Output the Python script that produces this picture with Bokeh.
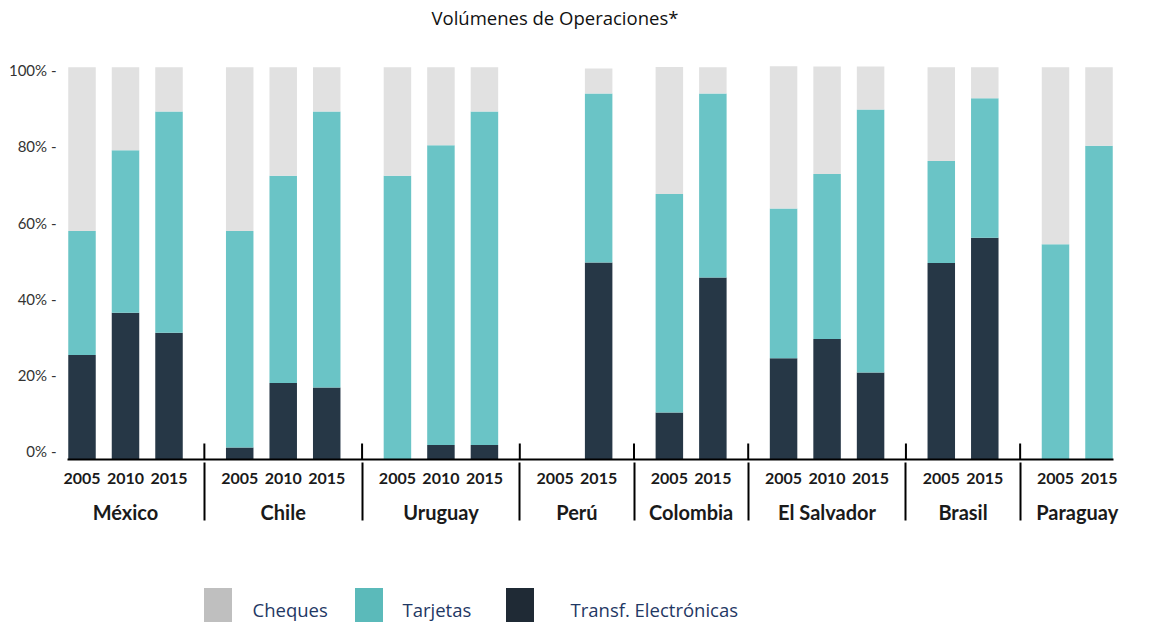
from bokeh.plotting import figure
from bokeh.layouts import column
from bokeh.models import (FactorRange, Range1d, FixedTicker, Legend, LegendItem,
                          Title, ColumnDataSource)
from bokeh.embed import file_html
from bokeh.resources import INLINE

# ---------------- data ----------------
countries = ["México", "Chile", "Uruguay", "Perú", "Colombia", "El Salvador", "Brasil", "Paraguay"]
years = [["2005", "2010", "2015"], ["2005", "2010", "2015"], ["2005", "2010", "2015"],
         ["2005", "2015"], ["2005", "2015"], ["2005", "2010", "2015"],
         ["2005", "2015"], ["2005", "2015"]]

# percentages, one value per (country, year) in the order above
transf = [25.2, 36.3, 31.1,
          0.9, 17.9, 16.7,
          0.0, 1.6, 1.6,
          0.0, 49.5,
          10.1, 45.6,
          24.4, 29.4, 20.6,
          49.4, 56.0,
          0.0, 0.0]
tarjetas = [32.6, 42.7, 58.1,
            56.9, 54.4, 72.5,
            72.3, 78.7, 87.6,
            0.0, 44.4,
            57.4, 48.3,
            39.3, 43.4, 69.1,
            26.8, 36.7,
            54.3, 80.2]
cheques = [43.0, 21.8, 11.6,
           43.0, 28.5, 11.6,
           28.5, 20.5, 11.6,
           0.0, 6.6,
           33.4, 6.9,
           37.4, 28.2, 11.3,
           24.6, 8.1,
           46.5, 20.6]

series_names = ["Cheques", "Tarjetas", "Transf. Electrónicas"]
y_ticks = [0, 20, 40, 60, 80, 100]
y_tick_labels = ["0% -", "20% -", "40% -", "60% -", "80% -", "100% -"]
title_text = "Volúmenes de Operaciones*"

# ---------------- styles / layout ----------------
C_DARK, C_TEAL, C_GRAY = "#263746", "#6AC4C6", "#E1E1E1"
L_GRAY, L_TEAL, L_DARK = "#BFBFBF", "#5BBABA", "#1F2A35"

FACTOR_PAD, GROUP_PAD, BAR_W = 0.5, 1.438, 0.948
W = 1155
H_MAIN, H_LEG = 545, 77
FRAME_TOP, FRAME_BOTTOM = 34, 459
MB_LEFT, MB_RIGHT = 67, 42
ZERO_PX, PX_PER_PCT = 450.5, 3.825
Y0 = -(FRAME_BOTTOM - ZERO_PX) / PX_PER_PCT
Y1 = (ZERO_PX - FRAME_TOP) / PX_PER_PCT

factors = [(c, y) for c, ys in zip(countries, years) for y in ys]
base = Y0

# stacked layers; a layer whose cumulative total is 0 collapses to the baseline
layers = [transf, tarjetas, cheques]
bottoms, tops = [], []
prev = [base] * len(factors)
cum = [0.0] * len(factors)
for vals in layers:
    cum = [c + v for c, v in zip(cum, vals)]
    top = [c if c > 0 else base for c in cum]
    bottoms.append(prev)
    tops.append(top)
    prev = top

src = ColumnDataSource(dict(x=factors,
                            b0=bottoms[0], t0=tops[0],
                            b1=bottoms[1], t1=tops[1],
                            b2=bottoms[2], t2=tops[2]))

p = figure(x_range=FactorRange(factors=factors, factor_padding=FACTOR_PAD,
                               group_padding=GROUP_PAD, range_padding=0),
           y_range=Range1d(Y0, Y1),
           width=W, height=H_MAIN, output_backend="svg", toolbar_location=None,
           min_border_left=MB_LEFT, min_border_right=MB_RIGHT,
           min_border_top=FRAME_TOP, min_border_bottom=H_MAIN - FRAME_BOTTOM)

p.vbar(x="x", top="t0", bottom="b0", width=BAR_W, source=src, fill_color=C_DARK, line_color=None)
p.vbar(x="x", top="t1", bottom="b1", width=BAR_W, source=src, fill_color=C_TEAL, line_color=None)
p.vbar(x="x", top="t2", bottom="b2", width=BAR_W, source=src, fill_color=C_GRAY, line_color=None)

# upper part of the group separators (rises above the axis line)
sep_x = [(c, ys[-1], (1 + GROUP_PAD) / 2) for c, ys in zip(countries[:-1], years[:-1])]
p.segment(x0=sep_x, x1=sep_x, y0=[Y0] * len(sep_x),
          y1=[Y0 + 16 / PX_PER_PCT] * len(sep_x), line_color="black", line_width=2)

# ---------------- axes ----------------
p.xgrid.visible = False
p.ygrid.visible = False
p.outline_line_color = None

xa = p.xaxis[0]
xa.axis_line_color = "black"
xa.axis_line_width = 2
xa.major_tick_line_color = None
xa.minor_tick_line_color = None
xa.major_tick_out = 0
xa.major_tick_in = 0
xa.major_label_standoff = 13
xa.major_label_text_font = "Lato"
xa.major_label_text_font_style = "bold"
xa.major_label_text_font_size = "16px"
xa.major_label_text_color = "#1a1a1a"
xa.group_text_font = "Lato"
xa.group_text_font_style = "bold"
xa.group_text_font_size = "20px"
xa.group_text_color = "#1a1a1a"
xa.separator_line_color = "black"
xa.separator_line_width = 2

ya = p.yaxis[0]
ya.ticker = FixedTicker(ticks=y_ticks)
ya.major_label_overrides = {t: l for t, l in zip(y_ticks, y_tick_labels)}
ya.axis_line_color = None
ya.major_tick_line_color = None
ya.minor_tick_line_color = None
ya.major_tick_out = 0
ya.major_tick_in = 0
ya.major_label_standoff = 11
ya.major_label_text_font = "Lato"
ya.major_label_text_font_size = "15px"
ya.major_label_text_color = "#333333"

# ---------------- title ----------------
p.title = Title(text=title_text, align="left", offset=364, vertical_align="top", standoff=8.8,
                text_font="Open Sans", text_font_size="18.5px", text_font_style="normal",
                text_color="#111111")

# ---------------- legend (own strip below the chart) ----------------
pl = figure(width=W, height=H_LEG, output_backend="svg", toolbar_location=None,
            x_range=Range1d(0, 1), y_range=Range1d(0, 1),
            x_axis_location=None, y_axis_location=None,
            min_border_left=0, min_border_right=0, min_border_top=0, min_border_bottom=0)
pl.outline_line_color = None
pl.grid.visible = False

leg_colors = [L_GRAY, L_TEAL, L_DARK]
leg_x = [132.5, 283.5, 434.5]          # left edge of each entry, from the strip's frame (px)
leg_standoff = [18, 17, 34]
for name, col, lx, so in zip(series_names, leg_colors, leg_x, leg_standoff):
    # zero-size proxy glyph: only its style is used, for the legend swatch
    r = pl.vbar(x=[0.5], top=[0.0], bottom=[0.0], width=0.0, fill_color=col, line_color=None)
    lg = Legend(items=[LegendItem(label=name, renderers=[r])], location=(lx, -14.5),
                orientation="horizontal", glyph_width=35, glyph_height=55,
                label_standoff=so, padding=0, margin=0, spacing=0,
                border_line_color=None, background_fill_alpha=0,
                label_text_font="Open Sans", label_text_font_size="18.5px",
                label_text_color="#1F3864")
    pl.add_layout(lg, "center")

layout = column(p, pl, spacing=0)
open("out.html", "w").write(file_html(layout, INLINE))
